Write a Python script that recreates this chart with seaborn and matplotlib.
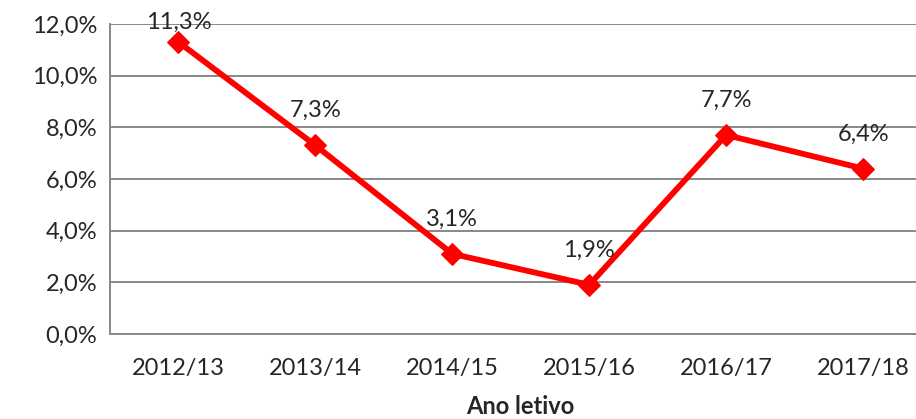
import numpy as np
import pandas as pd
import seaborn as sns
import matplotlib.pyplot as plt
from matplotlib.ticker import FuncFormatter, FixedLocator

anos = ['2012/13', '2013/14', '2014/15', '2015/16', '2016/17', '2017/18']
taxa = [11.3, 7.3, 3.1, 1.9, 7.7, 6.4]
yticks = [0, 2, 4, 6, 8, 10, 12]

df = pd.DataFrame({'Ano letivo': anos, 'Taxa': taxa})

sns.set_style('white')
plt.rcParams['font.family'] = ['Lato', 'DejaVu Sans']

fig = plt.figure(figsize=(9.16, 4.19), dpi=100)
ax = fig.add_axes([0.120, 0.203, 0.897, 0.740])

sns.lineplot(data=df, x='Ano letivo', y='Taxa', sort=False, ax=ax,
             color='#ff0000', linewidth=4.2, marker='D', markersize=11,
             markeredgecolor='#ff0000')

grey = '#888888'
ax.set_ylim(0, 12)
ax.set_xlim(-0.5, len(anos) - 0.5)
ax.set_yticks(yticks)
ax.yaxis.set_major_formatter(FuncFormatter(lambda v, p: f'{v:.1f}'.replace('.', ',') + '%'))
ax.grid(axis='y', color=grey, linewidth=1.4)
ax.set_axisbelow(True)

for s in ['top', 'right']:
    ax.spines[s].set_visible(False)
for s in ['left', 'bottom']:
    ax.spines[s].set_color(grey)
    ax.spines[s].set_linewidth(1.4)

fs = 17
ax.tick_params(axis='y', length=6, width=1.4, color=grey, labelsize=fs, pad=3)
ax.tick_params(axis='x', which='major', length=0, labelsize=fs, pad=17)
ax.xaxis.set_minor_locator(FixedLocator(np.arange(-0.5, len(anos), 1)))
ax.tick_params(axis='x', which='minor', length=6, width=1.4, color=grey)

ax.set_xlabel('Ano letivo', fontsize=fs, fontweight='bold', labelpad=12)
ax.set_ylabel('')

for i, v in enumerate(taxa):
    off = 14 if i == 0 else 25
    ax.annotate(f'{v:.1f}'.replace('.', ',') + '%', (i, v), xytext=(0, off),
                textcoords='offset points', ha='center', va='center',
                fontsize=fs, annotation_clip=False)

fig.savefig('out.png', dpi=100)
